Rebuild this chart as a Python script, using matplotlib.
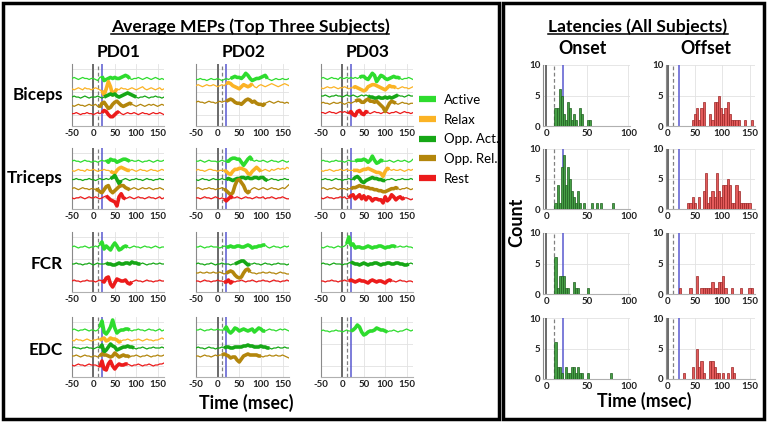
import matplotlib
matplotlib.use("Agg")
import matplotlib.pyplot as plt
from matplotlib.lines import Line2D
from matplotlib.patches import Rectangle

plt.rcParams['font.family'] = ['Lato', 'DejaVu Sans']

W, H = 767, 422

# sample times of the averaged MEP traces (ms)
time_ms = list(range(-50, 170, 5))

names = ['Active', 'Relax', 'Opp. Act.', 'Opp. Rel.', 'Rest']
colors = {'Active': '#2edc2e', 'Relax': '#fbb325', 'Opp. Act.': '#16a716',
          'Opp. Rel.': '#b3860c', 'Rest': '#ec1b1b'}

# ---- traces (deviation in px-ish units, 60 = panel height) ----
# Biceps PD01
bic1_act = [0,1,0,-1,0,1,0,0,-1,0, 0,-1,-2,1,2,-2,-1,0,1,0, 1,0,0,1,2,3,2,0,-1,0, 0,1,0,-1,0,1,0,-1,0,1, 0,-1,0,-1]
bic1_rel = [0,-1,0,1,0,-1,1,0,0,-1, 0,1,0,-1,-2,-6,0,7,2,-6, -3,0,-1,1,0,0,-1,0,1,0, -1,0,1,2,0,-1,0,1,0,-1, 0,1,-1,0]
bic1_oac = [0,1,0,0,-1,0,1,0,-1,0, 0,0,1,0,-1,0,1,2,3,2, 3,1,0,1,2,3,4,3,2,1, 0,-1,0,0,1,0,-1,0,0,1, 0,0,-1,0]
bic1_orl = [0,-1,0,1,0,0,-1,0,1,0, 0,1,-1,-2,2,3,0,-3,-2,1, 3,4,2,0,-1,0,1,2,1,0, -1,0,1,0,-1,0,1,0,1,0, -1,0,1,0]
bic1_rst = [0,0,1,0,-1,0,0,1,0,0, -1,0,1,0,1,3,2,-1,-3,-3, -1,1,2,0,-1,0,1,0,0,1, 0,-1,0,1,0,0,-1,0,1,0, 0,1,0,-1]
bic1_pos = [46, 36, 28, 20, 12]
bic1_win = [(20, 85), (20, 55), (25, 100), (15, 90), (20, 60)]

# Biceps PD02
bic2_act = [0,0,1,0,0,-1,0,1,0,0, 1,0,-1,0,1,0,1,2,3,2, 2,1,3,6,4,1,-1,0,1,1, 2,3,4,1,0,-1,0,1,0,0, 1,0,0,1]
bic2_rel = [0,1,0,-1,0,1,0,0,1,0, -1,0,1,0,2,3,2,0,-1,-2, -3,-1,1,0,-1,0,2,-1,-2,0, 1,0,-1,0,1,2,1,0,-1,0, 1,2,1,0]
bic2_orl = [0,1,0,0,-1,0,1,0,0,-1, 0,1,0,1,1,2,3,2,0,-1, -1,-2,0,2,3,2,0,1,-1,-2, -2,-3,-1,0,1,0,-1,0,1,0, 0,-1,0,-1]
bic2_pos = [45, 39, 23]
bic2_win = [(30, 115), (20, 80), (20, 110)]

# Biceps PD03
bic3_act = [0,1,0,-1,0,1,0,0,-1,1, 0,0,1,0,1,0,1,0,1,2, 2,0,-1,2,5,3,-3,0,3,2, 0,-1,0,1,2,1,1,0,-1,0, 0,1,0,-1]
bic3_rel = [0,-1,0,1,0,0,1,0,-1,0, 0,1,0,-1,0,0,1,0,-1,-2, -3,-2,1,2,3,3,2,1,0,-1, -2,0,2,1,1,0,-1,0,1,0, 0,-1,0,1]
bic3_oac = [0,0,1,0,-1,0,0,1,0,0, -1,0,1,0,0,1,0,-1,0,1, 0,1,0,-1,-1,-2,-2,-1,-2,-2, -1,-2,-1,-2,-1,0,1,0,0,-1, 0,1,0,0]
bic3_orl = [0,1,0,0,-1,0,1,0,0,1, 0,-1,0,1,0,1,2,3,3,1, 1,3,4,2,2,1,2,0,-2,-4, -8,-4,0,2,1,0,-1,0,1,0, 0,-1,0,0]
bic3_rst = [0,0,-1,0,1,0,0,-1,0,1, 0,1,0,-1,1,-2,-3,1,2,-1, -2,1,0,-1,0,1,0,0,-1,0, 1,0,-1,0,0,1,0,-1,0,1, 0,0,-1,0]
bic3_pos = [46, 37, 29, 22, 13]
bic3_win = [(40, 135), (25, 125), (60, 130), (30, 125), (15, 60)]

# Triceps PD01
tri1_act = [0,1,0,0,-1,0,1,0,0,-1, 0,0,-1,0,1,0,1,-1,2,1, 1,-1,0,1,2,2,1,0,1,0, 0,1,0,-1,0,0,1,0,-1,0, 1,0,0,1]
tri1_rel = [0,-1,0,1,0,0,-1,1,0,0, 1,0,-1,0,0,1,0,0,-1,-2, -3,0,2,3,2,1,0,0,1,0, -1,0,1,0,0,-1,0,1,0,0, -1,0,1,0]
tri1_oac = [0,0,1,0,0,-1,0,0,1,0, 0,-1,0,1,0,0,1,0,1,2, 4,0,-4,-1,0,1,0,-1,0,0, 1,0,0,-1,0,1,0,0,-1,0, 0,1,0,0]
tri1_orl = [0,1,0,-1,0,1,0,0,-1,0, 0,-1,-1,-3,-4,-1,2,3,-2,-4, -2,0,2,3,3,1,0,-1,0,1, 0,-1,0,1,0,0,1,0,-1,0, 0,1,0,-1]
tri1_rst = [0,-1,0,0,1,0,-1,0,1,0, 0,1,0,-1,0,1,2,0,-2,-3, -4,-8,1,4,0,-1,0,1,0,-1, 0,1,0,0,-1,0,1,0,0,-1, 0,1,-1,0]
tri1_pos = [47, 38, 29, 20, 11]
tri1_win = [(30, 85), (40, 85), (40, 65), (5, 85), (30, 75)]

# Triceps PD02
tri2_act = [0,0,1,0,-1,0,1,0,0,0, -1,0,1,0,0,0,2,3,3,2, 2,-1,-4,-1,2,4,1,0,1,0, 0,1,0,-1,0,1,0,0,-1,0, 1,0,-1,0]
tri2_rel = [0,1,0,0,-1,0,1,1,0,0, -1,0,0,0,-1,-3,-4,-1,1,1, 2,2,1,0,-3,-4,-1,1,3,1, -1,0,1,0,-1,1,0,1,2,1, 2,1,3,2]
tri2_oac = [0,-1,0,1,0,0,-1,0,1,0, 0,0,1,0,0,1,0,-1,0,1, 1,2,2,1,2,1,1,2,2,1, 2,2,0,-1,0,1,0,0,-1,0, 0,1,0,0]
tri2_orl = [0,1,0,-1,0,0,1,0,0,-1, 0,0,1,0,-2,-4,-6,-4,3,8, 9,6,3,-2,-4,-2,0,1,0,-1, 0,1,0,-1,0,1,0,0,-1,0, 1,0,2,4]
tri2_rst = [0,0,-1,0,1,0,0,-1,0,1, 0,-1,0,-1,-3,-1,1,0,0,1, 0,-1,0,1,0,0,-1,0,1,0, 0,1,-1,0,0,1,0,-1,0,0, 1,0,-1,-1]
tri2_pos = [47, 38, 29, 20, 11]
tri2_win = [(20, 80), (15, 100), (20, 115), (15, 75), (15, 35)]

# Triceps PD03
tri3_act = [0,1,0,0,-1,0,0,1,0,0, 0,-1,0,1,0,0,0,1,1,1, 2,1,-1,1,5,1,-2,-1,1,0, 0,0,1,0,-1,0,1,0,0,1, 0,-1,0,2]
tri3_rel = [0,-1,0,0,1,0,-1,0,0,1, 0,0,1,0,0,0,0,0,-1,0, 1,1,2,1,0,-1,-2,-2,-3,-6, -1,2,1,0,1,0,0,1,0,-1, 0,1,0,1]
tri3_oac = [0,0,1,0,0,-1,0,1,0,0, -1,0,0,1,0,0,2,3,1,-2, -3,-1,0,1,2,1,1,0,0,-1, -1,0,0,1,0,-1,0,0,1,0, 0,0,1,0]
tri3_orl = [0,1,0,-1,0,0,1,0,-1,0, 0,0,-1,0,0,1,1,2,3,2, 2,1,1,0,0,-1,-1,-2,-2,-3, -3,-2,-1,0,0,1,0,-1,0,0, 1,0,-1,0]
tri3_rst = [0,-1,0,1,0,0,-1,0,0,1, 0,1,-1,0,2,3,-1,1,3,-1, 2,-2,1,0,-3,-1,-1,-2,-2,-5, 1,-3,-1,3,1,-2,0,1,-1,0, 0,-1,-2,-1]
tri3_pos = [47, 38, 29, 20, 11]
tri3_win = [(30, 95), (25, 110), (25, 100), (20, 130), (15, 145)]

# FCR PD01
fcr1_act = [0,1,0,-1,0,0,1,0,-1,0, 0,1,0,2,5,-2,1,-1,-3,1, 4,1,-3,-2,0,1,0,-1,0,1, 0,0,-1,0,1,0,0,-1,0,1, 0,-1,0,0]
fcr1_oac = [0,0,1,0,0,-1,0,0,1,0, -1,0,1,0,0,0,1,0,0,-1, -1,0,1,0,0,1,1,0,2,1, 1,0,0,1,0,-1,0,0,1,0, 0,1,0,0]
fcr1_rst = [0,1,0,0,-1,0,0,1,0,0, 0,-1,0,1,0,-1,3,4,-3,-6, -2,2,1,0,0,1,-2,-3,-1,0, 1,0,0,-1,0,1,0,0,-1,0, 0,1,0,0]
fcr1_pos = [45, 28, 11]
fcr1_win = [(15, 80), (30, 110), (20, 90)]

# FCR PD02
fcr2_act = [0,0,1,0,-1,0,0,1,0,0, 0,-1,0,1,0,0,1,0,0,1, 1,0,0,1,2,1,-1,0,0,1, 1,2,2,0,-1,0,1,0,0,-1, 0,1,0,1]
fcr2_oac = [0,1,0,0,-1,0,0,1,0,-1, 0,0,1,0,0,0,-1,0,0,1, 2,3,3,1,-1,0,0,1,0,0, -1,0,1,0,0,-1,0,0,1,0, 0,0,-1,0]
fcr2_orl = [0,0,1,0,0,1,0,0,1,0, 0,1,0,-1,0,1,2,1,-2,-4, -5,-4,0,3,4,1,0,0,-1,0, 0,1,0,0,1,0,0,-1,0,1, 0,0,-1,-1]
fcr2_rst = [0,0,-1,0,1,0,0,-1,0,0, 1,0,0,-1,-1,1,-2,0,-1,0, 0,1,0,-1,0,0,1,0,-1,0, 0,1,0,0,-1,0,1,0,0,-1, 0,0,1,0]
fcr2_pos = [45, 28, 19, 11]
fcr2_win = [(20, 110), (40, 75), (20, 75), (15, 35)]

# FCR PD03
fcr3_act = [0,-1,0,1,0,0,-1,0,1,0, 0,1,3,10,2,3,-1,0,0,-1, -1,0,1,0,-1,0,0,1,1,0, -1,0,0,1,1,0,0,1,0,0, 1,0,0,-1]
fcr3_oac = [0,1,0,0,-1,0,1,0,0,0, -1,0,0,1,2,1,0,0,-1,0, 1,0,-1,0,0,1,1,0,-1,0, 0,1,1,0,0,1,1,0,0,-1, -1,0,1,0]
fcr3_rst = [0,0,-1,0,0,1,0,0,-1,0, 0,1,0,0,1,0,-1,0,1,0, 0,-1,-2,0,1,0,-1,0,0,-1, -2,0,1,0,0,-1,0,1,0,0, -1,0,0,-1]
fcr3_pos = [45, 28, 11]
fcr3_win = [(10, 125), (20, 155), (15, 115)]

# EDC PD01
edc1_act = [0,1,0,-1,0,0,1,0,-1,0, 0,-1,0,3,9,-2,-4,-1,3,10, 2,-3,-1,0,0,1,1,0,-1,0, 0,1,0,0,-1,0,1,0,0,-1, 0,1,-1,0]
edc1_rel = [0,-1,1,0,0,-1,0,1,0,-1, 0,0,1,0,1,2,-1,0,2,1, 1,0,-2,-1,0,0,1,0,-1,0, 0,1,0,-1,0,1,0,0,-1,0, 0,1,2,1]
edc1_oac = [0,1,0,0,-1,0,0,1,0,0, -1,0,1,0,3,-4,-2,1,4,2, 1,-2,-1,0,1,1,2,1,1,0, -1,0,0,1,0,-1,0,0,1,0, 0,0,1,0]
edc1_orl = [0,0,1,0,-1,0,1,0,0,-1, 0,0,-1,0,2,1,1,0,-1,0, 3,1,-1,0,1,0,0,-1,0,0, 1,0,-1,0,0,1,0,-1,0,0, 1,0,0,1]
edc1_rst = [0,-1,0,1,0,0,-1,0,1,0, 0,0,-1,-2,4,-4,-5,1,4,-1, -4,-1,1,0,0,1,1,0,-1,0, 0,1,0,-1,0,0,1,0,-1,0, 0,1,1,2]
edc1_pos = [47, 37, 29, 21, 12]
edc1_win = [(15, 85), (15, 65), (15, 95), (15, 85), (15, 80)]

# EDC PD02
edc2_act = [0,0,1,0,-1,0,0,1,0,0, 1,0,0,0,3,-1,-3,-1,2,1, -1,0,1,0,-1,0,1,-2,0,2, 1,-1,-1,0,1,0,0,-1,0,1, 0,1,0,-1]
edc2_oac = [0,1,0,0,-1,0,1,0,0,-1, 0,0,1,0,1,1,0,0,1,1, 1,1,2,2,3,2,2,1,1,1, 2,1,1,0,0,-1,0,0,1,0, 0,1,0,0]
edc2_orl = [0,0,-1,0,1,0,0,-1,0,1, 0,1,1,2,1,0,-2,-1,-1,-4, -6,-3,0,1,2,1,1,1,1,0, 0,-1,0,0,1,0,0,1,0,0, 1,0,-1,-2]
edc2_pos = [47, 29, 21]
edc2_win = [(15, 110), (15, 120), (10, 100)]

# EDC PD03
edc3_act = [0,1,0,0,-1,0,0,1,0,0, -1,0,1,0,0,1,3,6,4,-1, -4,-3,-1,0,0,1,3,2,1,1, 0,-1,0,0,1,0,-1,0,0,1, 2,1,0,1]
edc3_pos = [46]
edc3_win = [(20, 105)]

muscles = ['Biceps', 'Triceps', 'FCR', 'EDC']
subjects = ['PD01', 'PD02', 'PD03']

mep_panels = [
    (0, 0, names, [bic1_act, bic1_rel, bic1_oac, bic1_orl, bic1_rst], bic1_pos, bic1_win),
    (0, 1, ['Active', 'Relax', 'Opp. Rel.'], [bic2_act, bic2_rel, bic2_orl], bic2_pos, bic2_win),
    (0, 2, names, [bic3_act, bic3_rel, bic3_oac, bic3_orl, bic3_rst], bic3_pos, bic3_win),
    (1, 0, names, [tri1_act, tri1_rel, tri1_oac, tri1_orl, tri1_rst], tri1_pos, tri1_win),
    (1, 1, names, [tri2_act, tri2_rel, tri2_oac, tri2_orl, tri2_rst], tri2_pos, tri2_win),
    (1, 2, names, [tri3_act, tri3_rel, tri3_oac, tri3_orl, tri3_rst], tri3_pos, tri3_win),
    (2, 0, ['Active', 'Opp. Act.', 'Rest'], [fcr1_act, fcr1_oac, fcr1_rst], fcr1_pos, fcr1_win),
    (2, 1, ['Active', 'Opp. Act.', 'Opp. Rel.', 'Rest'], [fcr2_act, fcr2_oac, fcr2_orl, fcr2_rst], fcr2_pos, fcr2_win),
    (2, 2, ['Active', 'Opp. Act.', 'Rest'], [fcr3_act, fcr3_oac, fcr3_rst], fcr3_pos, fcr3_win),
    (3, 0, names, [edc1_act, edc1_rel, edc1_oac, edc1_orl, edc1_rst], edc1_pos, edc1_win),
    (3, 1, ['Active', 'Opp. Act.', 'Opp. Rel.'], [edc2_act, edc2_oac, edc2_orl], edc2_pos, edc2_win),
    (3, 2, ['Active'], [edc3_act], edc3_pos, edc3_win),
]

# ---- latency histograms (bin left edge, count) ----
onset_bic_left = [10, 12.5, 15, 17.5, 20, 22.5, 25, 27.5, 30, 32.5, 35, 40, 42.5, 50, 52.5]
onset_bic_count = [3, 3, 6, 5, 2, 1, 4, 3, 1, 2, 1, 3, 2, 1, 1]
onset_tri_left = [10, 12.5, 15, 17.5, 20, 22.5, 25, 27.5, 30, 32.5, 35, 37.5, 40, 45, 55, 60, 65, 80]
onset_tri_count = [1, 4, 1, 7, 9, 4, 7, 5, 3, 2, 1, 3, 1, 1, 1, 1, 1, 1]
onset_fcr_left = [10, 12.5, 15, 17.5, 20, 22.5, 25, 32.5, 35, 37.5, 50]
onset_fcr_count = [6, 1, 3, 3, 3, 1, 1, 2, 1, 1, 1]
onset_edc_left = [10, 12.5, 15, 17.5, 22.5, 25, 27.5, 30, 32.5, 35, 37.5, 40, 42.5, 50, 77.5]
onset_edc_count = [6, 2, 2, 1, 2, 1, 1, 2, 2, 1, 2, 1, 1, 1, 1]

offset_bic_left = [44, 48, 52, 56, 60, 64, 76, 80, 84, 88, 92, 96, 100, 104, 108, 112, 116, 120, 124, 128, 140, 152]
offset_bic_count = [1, 2, 3, 1, 3, 4, 2, 1, 4, 4, 5, 3, 2, 3, 4, 2, 1, 1, 1, 1, 1, 1]
offset_tri_left = [36, 40, 44, 48, 56, 64, 68, 72, 76, 80, 84, 88, 92, 96, 100, 104, 108, 112, 116, 120, 124, 128, 132, 136, 140, 144, 148]
offset_tri_count = [1, 1, 2, 1, 2, 3, 6, 1, 2, 3, 2, 6, 3, 2, 4, 4, 5, 4, 1, 1, 4, 3, 1, 1, 1, 1, 1]
offset_fcr_left = [20, 40, 52, 60, 64, 68, 72, 76, 80, 84, 88, 92, 96, 100, 104, 116, 132, 148, 152]
offset_fcr_count = [1, 1, 3, 1, 1, 1, 1, 1, 2, 1, 1, 2, 2, 3, 1, 1, 1, 1, 1]
offset_edc_left = [28, 44, 52, 56, 60, 64, 76, 80, 84, 88, 92, 100, 108, 116, 120]
offset_edc_count = [1, 2, 5, 2, 3, 1, 3, 3, 2, 1, 1, 1, 1, 2, 1]

onset_hists = [(onset_bic_left, onset_bic_count), (onset_tri_left, onset_tri_count),
               (onset_fcr_left, onset_fcr_count), (onset_edc_left, onset_edc_count)]
offset_hists = [(offset_bic_left, offset_bic_count), (offset_tri_left, offset_tri_count),
                (offset_fcr_left, offset_fcr_count), (offset_edc_left, offset_edc_count)]

# ---- layout (pixel boxes) ----
mep_cols = [(72, 164), (196, 289), (321, 413)]
mep_rows = [(64, 126), (148, 209), (232, 292), (317, 377)]
hist_cols = [(543, 630), (666, 755)]
hist_rows = [(65, 126), (149, 209), (233, 294), (318, 379)]


def box(x0, x1, y0, y1):
    return [x0 / W, 1 - y1 / H, (x1 - x0) / W, (y1 - y0) / H]


def ref_lines(ax):
    ax.axvline(0, color='#6a6a6a', lw=1.4, zorder=1)
    ax.axvline(10, color='#808080', lw=0.9, ls=(0, (3, 2)), zorder=1)
    ax.axvline(20, color='#5858d0', lw=1.1, zorder=1)


def style(ax, xt, ytl):
    ax.set_xticks(xt)
    ax.set_xticklabels([str(v) for v in xt], fontweight='bold')
    ax.set_yticklabels(ytl, fontweight='bold')
    ax.tick_params(length=0, labelsize=7, pad=2, colors='#222222')
    ax.grid(True, color='#e2e2e2', lw=0.6)
    ax.set_axisbelow(True)
    for s in ['top', 'right']:
        ax.spines[s].set_visible(False)
    ax.spines['left'].set_color('#8a8a8a')
    ax.spines['bottom'].set_color('#b0b0b0')
    ax.spines['left'].set_linewidth(0.8)
    ax.spines['bottom'].set_linewidth(0.8)


fig = plt.figure(figsize=(W / 100, H / 100), dpi=100)

for r, c, labs, traces, pos, win in mep_panels:
    x0, x1 = mep_cols[c]
    y0, y1 = mep_rows[r]
    ax = fig.add_axes(box(x0, x1, y0, y1))
    ax.set_xlim(-50, 165)
    ax.set_ylim(0, 60)
    ax.set_yticks([11, 33, 55])
    style(ax, [-50, 0, 50, 100, 150], [])
    ref_lines(ax)
    for lab, tr, p, (a, b) in zip(labs, traces, pos, win):
        y = [p + v for v in tr]
        ax.plot(time_ms, y, color=colors[lab], lw=0.9, zorder=3)
        ts = [tt for tt in time_ms if a <= tt <= b]
        ys = [yy for tt, yy in zip(time_ms, y) if a <= tt <= b]
        ax.plot(ts, ys, color=colors[lab], lw=2.6, zorder=4,
                solid_capstyle='butt')

for r in range(4):
    for c, (hists, xmax, xt, fc, ec, bw) in enumerate([
            (onset_hists, 102, [0, 50, 100], '#46a046', '#1f5e1f', 2.5),
            (offset_hists, 160, [0, 50, 100, 150], '#e35b5b', '#9a2424', 4)]):
        x0, x1 = hist_cols[c]
        y0, y1 = hist_rows[r]
        ax = fig.add_axes(box(x0, x1, y0, y1))
        ax.set_xlim(-4 if c == 0 else -3, xmax)
        ax.set_ylim(0, 10)
        ax.set_yticks([0, 5, 10])
        style(ax, xt, ['0', '5', '10'])
        ref_lines(ax)
        lefts, counts = hists[r]
        ax.bar(lefts, counts, width=bw, align='edge', color=fc,
               edgecolor=ec, linewidth=0.5, zorder=3)

# legend
handles = [Line2D([], [], color=colors[n], lw=4.5, solid_capstyle='butt') for n in names]
fig.legend(handles, names, loc='upper left', bbox_to_anchor=(419 / W, 1 - 94 / H),
           frameon=False, fontsize=9.5, handlelength=1.3, labelspacing=0.58,
           handletextpad=0.6, borderpad=0, borderaxespad=0)

# texts
def ftext(x, y, s, **kw):
    return fig.text(x / W, 1 - y / H, s, ha='center', va='center', **kw)

t_left = ftext(250, 27, 'Average MEPs (Top Three Subjects)', fontsize=12.6, fontweight='bold')
t_right = ftext(638, 27, 'Latencies (All Subjects)', fontsize=12.6, fontweight='bold')
for x, s in zip([119, 244, 368], subjects):
    ftext(x, 52, s, fontsize=12.5, fontweight='bold')
for y, s in zip([95, 178, 264, 350], muscles):
    fig.text(63 / W, 1 - y / H, s, ha='right', va='center', fontsize=12.3, fontweight='bold')
ftext(583, 49, 'Onset', fontsize=12.8, fontweight='bold')
ftext(706, 49, 'Offset', fontsize=12.8, fontweight='bold')
ftext(517, 222, 'Count', fontsize=13, fontweight='bold', rotation=90)
ftext(246, 403, 'Time (msec)', fontsize=12.8, fontweight='bold')
ftext(644, 401, 'Time (msec)', fontsize=12.8, fontweight='bold')

# panel frames
for x0, x1 in [(3, 499), (503, 764)]:
    fig.add_artist(Rectangle((x0 / W, 3 / H), (x1 - x0) / W, 416 / H, fill=False,
                             lw=2.5, ec='black', transform=fig.transFigure))

# underline the two panel titles
fig.canvas.draw()
for t in [t_left, t_right]:
    bb = t.get_window_extent()
    yl = (bb.y0 + 1) / H
    fig.add_artist(Line2D([bb.x0 / W, bb.x1 / W], [yl, yl], color='black', lw=1.1,
                          transform=fig.transFigure))

fig.savefig('out.png', dpi=100)
